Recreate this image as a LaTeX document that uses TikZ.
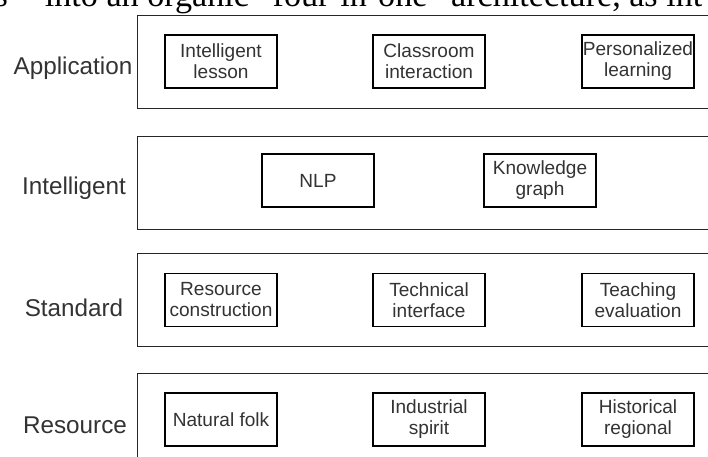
\documentclass[tikz,border=0pt]{standalone}
\usepackage{fontspec}
\setmainfont{Liberation Sans}
\newfontfamily\serifpage{Liberation Serif}
\definecolor{inkgray}{RGB}{51,51,51}

\tikzset{every picture/.style={line width=0.9pt}}
\tikzset{
  layerbox/.style={draw=black!85, anchor=north west, minimum width=450pt, minimum height=69.75pt, inner sep=0pt},
  cellbox/.style={draw=black, minimum width=84pt, minimum height=39.75pt, inner sep=0pt, align=center,
    text=inkgray, font=\fontsize{14.3}{15.75}\selectfont},
  layerlabel/.style={text=inkgray, inner sep=0pt, font=\fontsize{18.2}{20}\selectfont}
}

\begin{document}
\begin{tikzpicture}[x=0.75pt,y=0.75pt,yscale=-1,xscale=1]
\useasboundingbox (0,0) rectangle (708,457);
\clip (0,0) rectangle (708,457);
\fill[white] (0,0) rectangle (708,457);

% page text cut off at the top
\node[anchor=base west, inner sep=0pt, font=\serifpage\fontsize{25.6}{28}\selectfont] (pagetext) at (-6,6.5) {s”\hspace{10pt} into an organic “four-in-one” architecture, as int};

% Layers
\node[layerbox] (appl) at (137,15) {};
\node[layerbox] (intl) at (137,136) {};
\node[layerbox] (stnd) at (137,253) {};
\node[layerbox, minimum height=75pt] (resr) at (137,373) {};

% Layer names
\node[layerlabel] (lblappl) at (73,68) {Application};
\node[layerlabel] (lblintl) at (74,188) {Intelligent};
\node[layerlabel] (lblstnd) at (74,308) {Standard};
\node[layerlabel] (lblresr) at (75,425) {Resource};

% Application layer
\node[cellbox] (lesson) at (221,61.5) {Intelligent\\lesson};
\node[cellbox] (interact) at (429,61.5) {Classroom\\interaction};
\node[cellbox] (personal) at (638,61.5) {Personalized\\learning};

% Intelligent layer
\node[cellbox] (nlp) at (318,180.5) {NLP};
\node[cellbox] (kgraph) at (540,180.5) {Knowledge\\graph};

% Standard layer
\node[cellbox] (construct) at (221,300) {Resource\\construction};
\node[cellbox] (techif) at (429,300) {Technical\\interface};
\node[cellbox] (evaluate) at (638,300) {Teaching\\evaluation};

% Resource layer
\node[cellbox] (folk) at (221,419.5) {Natural folk};
\node[cellbox] (spirit) at (429,419.5) {Industrial\\spirit};
\node[cellbox] (history) at (638,419.5) {Historical\\regional};

\end{tikzpicture}
\end{document}
